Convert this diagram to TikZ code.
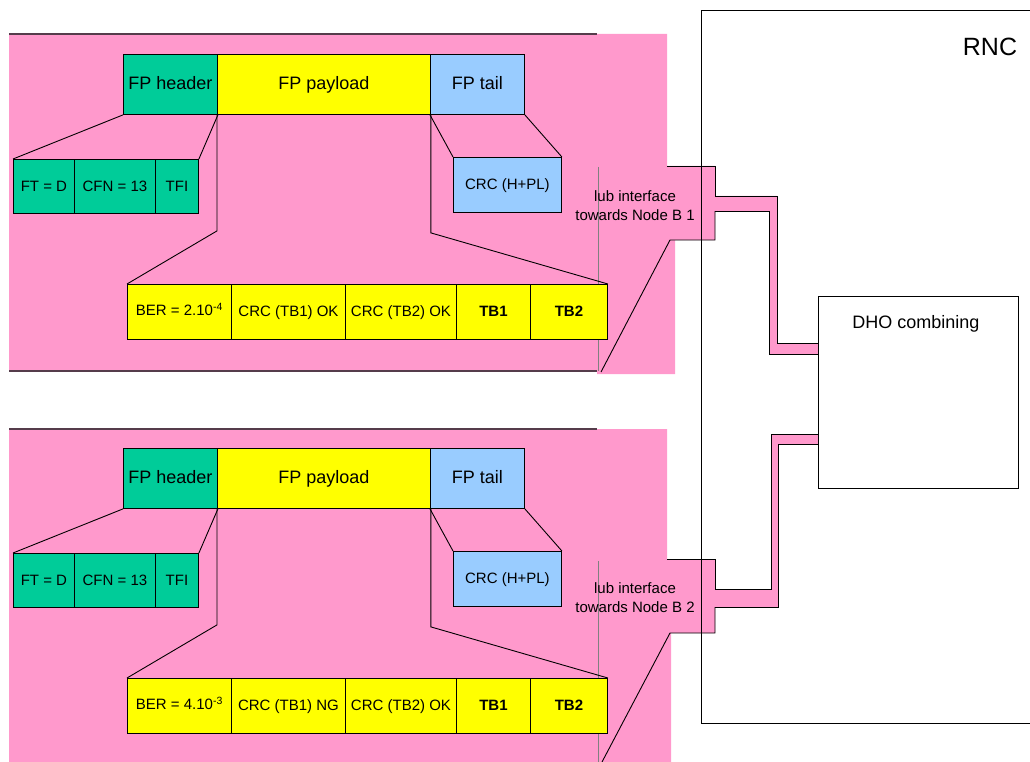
\documentclass[tikz,border=0pt]{standalone}
\usepackage{fontspec}
\setmainfont{Liberation Sans}
\definecolor{pinkbg}{RGB}{255,153,204}
\definecolor{hdrgreen}{RGB}{0,204,153}
\definecolor{plyellow}{RGB}{255,255,0}
\definecolor{tailblue}{RGB}{153,204,255}
\definecolor{panelline}{RGB}{85,60,75}
\tikzset{
  smallfont/.style={font=\fontsize{15}{19}\selectfont},
  bigfont/.style={font=\fontsize{18}{21}\selectfont},
  cell/.style={draw=black, line width=0.9pt, inner sep=0pt, anchor=north west, smallfont, text height=1.0em, text depth=0pt},
  bigcell/.style={cell, bigfont, text height=1.02em},
  boldcell/.style={cell, font=\fontsize{15}{17}\selectfont\bfseries},
  edgeline/.style={draw=black, line width=0.9pt},
  panelrule/.style={draw=panelline, line width=1.5pt},
  guide/.style={draw=gray, line width=0.5pt},
}
\newcommand\fpblocks[4]{%
\begin{scope}[yshift=-#2pt]
  \node[bigcell, fill=hdrgreen, minimum width=94pt, minimum height=60pt] (hdr#1) at (123,54) {FP header};
  \node[bigcell, fill=plyellow, minimum width=213pt, minimum height=60pt] (pay#1) at (217,54) {FP payload};
  \node[bigcell, fill=tailblue, minimum width=94pt, minimum height=60pt] (tail#1) at (430,54) {FP tail};
  \node[cell, fill=hdrgreen, minimum width=61pt, minimum height=54pt] (ft#1) at (13,159) {FT = D};
  \node[cell, fill=hdrgreen, minimum width=81pt, minimum height=54pt] (cfn#1) at (74,159) {CFN = 13};
  \node[cell, fill=hdrgreen, minimum width=43pt, minimum height=54pt] (tfi#1) at (155,159) {TFI};
  \node[cell, fill=tailblue, minimum width=108pt, minimum height=55pt] (crch#1) at (453,157) {CRC (H+PL)};
  \node[cell, fill=plyellow, minimum width=104pt, minimum height=55pt, text height=0.8em] (ber#1) at (127,284) {BER = #3};
  \node[cell, fill=plyellow, minimum width=114pt, minimum height=55pt] (ca#1) at (231,284) {CRC (TB1) #4};
  \node[cell, fill=plyellow, minimum width=111pt, minimum height=55pt] (cb#1) at (345,284) {CRC (TB2) OK};
  \node[boldcell, fill=plyellow, minimum width=74pt, minimum height=55pt] (tba#1) at (456,284) {TB1};
  \node[boldcell, fill=plyellow, minimum width=77pt, minimum height=55pt] (tbb#1) at (530,284) {TB2};
  \draw[edgeline] (hdr#1.south west) -- (ft#1.north west);
  \draw[edgeline] (hdr#1.south east) -- (tfi#1.north east);
  \draw[edgeline] (pay#1.south west) -- ++(0,116) -- (ber#1.north west);
  \draw[edgeline] (pay#1.south east) -- ++(0,118) -- (tbb#1.north east);
  \draw[edgeline] (tail#1.south west) -- (crch#1.north west);
  \draw[edgeline] (tail#1.south east) -- (crch#1.north east);
\end{scope}}
\begin{document}
\begin{tikzpicture}[x=1pt, y=-1pt]
\useasboundingbox (0,0) rectangle (1030,762);
% pink panels with callouts
\fill[pinkbg] (9,34) -- (667,34) -- (667,166) -- (715,166) -- (715,240) -- (675,240) -- (675,374) -- (597,374) -- (597,371) -- (9,371) -- cycle;
\fill[pinkbg] (9,429) -- (667,429) -- (667,559) -- (715,559) -- (715,633) -- (671,633) -- (671,762) -- (9,762) -- cycle;
\draw[panelrule] (9,34) -- (597,34);
\draw[panelrule] (9,371) -- (597,371);
\draw[panelrule] (9,429) -- (597,429);
% guide lines
\draw[guide] (598,167) -- (598,371);
\draw[guide] (598,561) -- (598,762);
% pipes
\fill[pinkbg] (715,196) -- (777,196) -- (777,343) -- (818,343) -- (818,354) -- (769,354) -- (769,211) -- (715,211) -- cycle;
\fill[pinkbg] (715,589) -- (771,589) -- (771,434) -- (818,434) -- (818,444) -- (778,444) -- (778,607) -- (715,607) -- cycle;
\draw[edgeline] (715,196) -- (777,196) -- (777,343) -- (818,343);
\draw[edgeline] (715,211) -- (769,211) -- (769,354) -- (818,354);
\draw[edgeline] (715,589) -- (771,589) -- (771,434) -- (818,434);
\draw[edgeline] (715,607) -- (778,607) -- (778,444) -- (818,444);
% callout outlines
\draw[edgeline] (667,166) -- (715,166) -- (715,196);
\draw[edgeline] (715,211) -- (715,240) -- (670,240) -- (601,372);
\draw[edgeline] (667,559) -- (715,559) -- (715,589);
\draw[edgeline] (715,607) -- (715,633) -- (670,633) -- (602,762);
% RNC
\draw[edgeline] (1045,10) -- (701,10) -- (701,723) -- (1045,723);
\node[font=\fontsize{25}{30}\selectfont] (rnc) at (990,47) {RNC};
\node[draw=black, line width=0.9pt, fill=white, anchor=north west, minimum width=200pt, minimum height=192pt, inner sep=0pt] (dho) at (818,296) {};
\node[bigfont] (dholabel) at (916,324) {DHO combining};
% callout labels
\node[smallfont, align=center] (iub1) at (635,206) {lub interface\\towards Node B 1};
\node[smallfont, align=center] (iub2) at (635,598) {lub interface\\towards Node B 2};
% frame blocks
\fpblocks{1}{0}{2.10\textsuperscript{-4}}{OK}
\fpblocks{2}{394}{4.10\textsuperscript{-3}}{NG}
\end{tikzpicture}
\end{document}
